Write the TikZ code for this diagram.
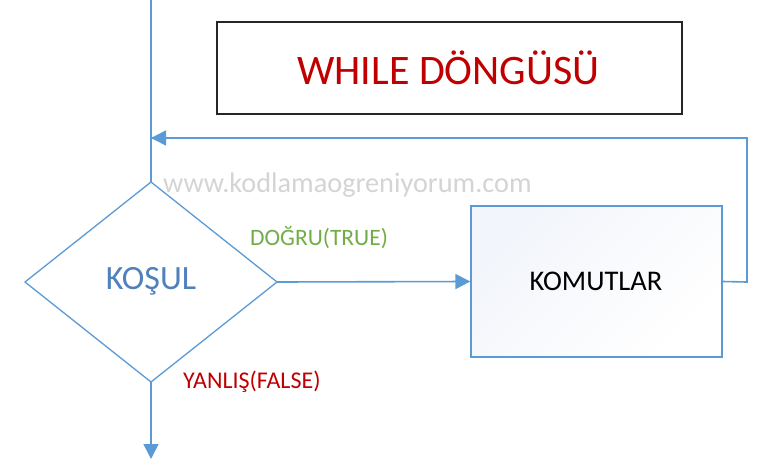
\documentclass[tikz,border=0pt]{standalone}
\usepackage{fontspec}
\setmainfont{Carlito}
\usetikzlibrary{arrows.meta,shapes.geometric}
\definecolor{lineblue}{HTML}{5B9BD5}
\definecolor{textblue}{HTML}{4F81BD}
\definecolor{darkred}{HTML}{C00000}
\definecolor{okgreen}{HTML}{70AD47}
\definecolor{wmgrey}{HTML}{D4D4D4}
\definecolor{boxfill}{HTML}{F2F5FB}
\tikzset{
  conn/.style={draw=lineblue, line width=1.6pt},
  arr/.style={conn, -{Triangle[length=15pt,width=15pt]}},
}
\begin{document}
\begin{tikzpicture}[x=1pt,y=-1pt]
\useasboundingbox (0,0) rectangle (768,471);
% title box
\node[draw=black!85, line width=2pt, minimum width=465pt, minimum height=92pt, inner sep=0pt] (title) at (449.5,68) {};
\node[text=darkred, font=\fontsize{42}{46}\selectfont] (titletext) at (448.5,68) {WHILE DÖNGÜSÜ};
% diamond
\coordinate (dtop) at (151,182);
\coordinate (dleft) at (25,282);
\coordinate (dright) at (277,282);
\coordinate (dbot) at (151,382);
\draw[draw=lineblue, line width=1.3pt, fill=white] (dtop) -- (dright) -- (dbot) -- (dleft) -- cycle;
\node[text=textblue, font=\fontsize{34}{38}\selectfont] (kosul) at (151,281) {KOŞUL};
% commands box
\node[draw=lineblue, line width=1.3pt, minimum width=251pt, minimum height=151pt, inner sep=0pt,
  top color=boxfill, bottom color=white, shading angle=45] (box) at (596.5,281.5) {};
\node[text=black, font=\fontsize{28.5}{32}\selectfont] (komut) at (596,281) {KOMUTLAR};
% watermark
\node[text=wmgrey, font=\fontsize{28.3}{32}\selectfont, anchor=west, inner sep=0pt] (wm) at (163,185) {www.kodlamaogreniyorum.com};
% labels
\node[text=okgreen, font=\fontsize{23.5}{26}\selectfont, anchor=west, inner sep=0pt] (true) at (250,238) {DOĞRU(TRUE)};
\node[text=darkred, font=\fontsize{24}{26}\selectfont, anchor=west, inner sep=0pt] (false) at (183,382) {YANLIŞ(FALSE)};
% connectors
\coordinate (topin) at (151,0);
\coordinate (outend) at (151,459);
\coordinate (loopa) at (747,282);
\coordinate (loopb) at (747,138);
\coordinate (loopc) at (151,138);
\draw[conn] (topin) -- (dtop);
\draw[arr] (dbot) -- (outend);
\draw[arr] (dright) -- (box.west);
\draw[conn] (box.east) -- (loopa) -- (loopb) -- (loopc);
\draw[arr] (loopb) -- (loopc);
\end{tikzpicture}
\end{document}
